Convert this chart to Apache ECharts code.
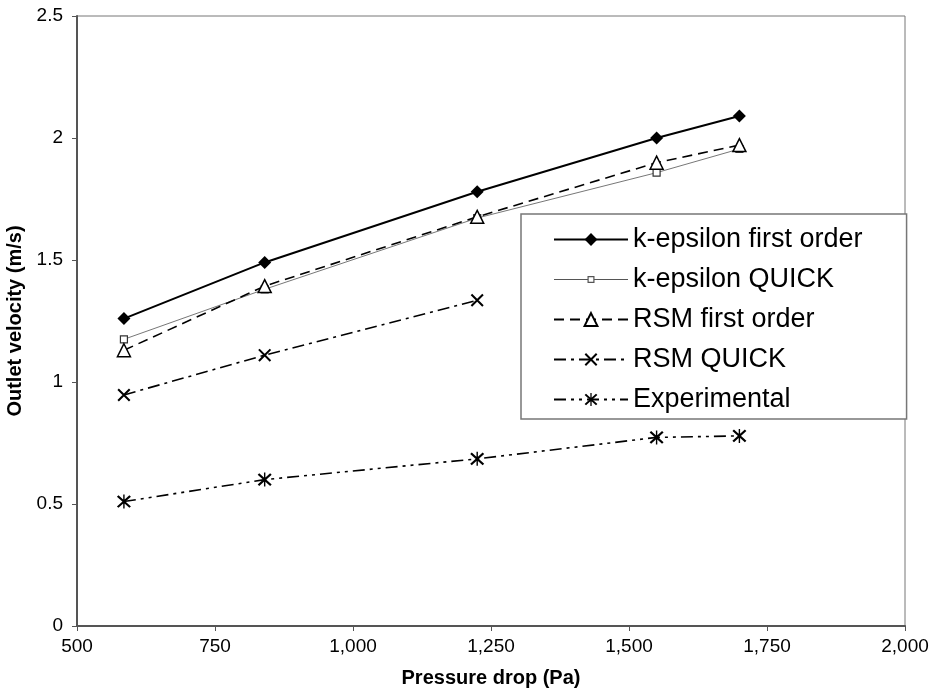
<!DOCTYPE html>
<html>
<head>
<meta charset="utf-8">
<script src="https://cdn.jsdelivr.net/npm/echarts@6/dist/echarts.min.js"></script>
<style>
html,body{margin:0;padding:0;background:#fff;}
#chart{width:933px;height:689px;}
</style>
</head>
<body>
<div id="chart"></div>
<script>
// Data
var pressureDrop = [585, 840, 1225, 1550, 1700];
var kEpsFirst    = [1.26, 1.49, 1.78, 2.00, 2.09];
var kEpsQuick    = [1.175, 1.38, 1.672, 1.858, 1.955];
var rsmFirst     = [1.13, 1.393, 1.677, 1.899, 1.971];
var rsmQuickX    = [585, 840, 1225];
var rsmQuick     = [0.947, 1.11, 1.335];
var experimental = [0.51, 0.60, 0.685, 0.773, 0.779];
var seriesNames  = ['k-epsilon first order', 'k-epsilon QUICK', 'RSM first order', 'RSM QUICK', 'Experimental'];
var xTicks = [500, 750, 1000, 1250, 1500, 1750, 2000];
var yTicks = [0, 0.5, 1, 1.5, 2, 2.5];

function pairs(xs, ys) { return ys.map(function (v, i) { return [xs[i], v]; }); }

var crossPath = 'path://M1,3L3,1L19,17L17,19ZM17,1L19,3L3,19L1,17Z';
var starPath  = 'path://M1,3L3,1L19,17L17,19ZM17,1L19,3L3,19L1,17ZM9.1,0L10.9,0L10.9,20L9.1,20Z';
// legend icon for the thin line with a small hollow square
var quickIcon = 'path://M0,7.5L33.5,7.5L33.5,8.5L0,8.5ZM40.5,7.5L74,7.5L74,8.5L40.5,8.5Z' +
                'M33.5,4.5L40.5,4.5L40.5,11.5L33.5,11.5ZM34.7,5.7L34.7,10.3L39.3,10.3L39.3,5.7Z';

var FONT = '"Liberation Sans", Arial, sans-serif';
var chart = echarts.init(document.getElementById('chart'), null, {renderer: 'canvas'});

chart.setOption({
  backgroundColor: '#fff',
  animation: false,
  textStyle: {fontFamily: FONT, color: '#000'},
  grid: {left: 77, right: 28, top: 16, bottom: 63, containLabel: false, outerBoundsMode: 'none',
         show: true, borderColor: '#777', borderWidth: 1, backgroundColor: 'transparent'},
  xAxis: {
    type: 'value', min: xTicks[0], max: xTicks[xTicks.length - 1], interval: 250,
    name: 'Pressure drop (Pa)', nameLocation: 'middle', nameGap: 42,
    nameTextStyle: {fontFamily: FONT, fontWeight: 'bold', fontSize: 20, color: '#000'},
    axisLine: {show: true, onZero: false, lineStyle: {color: '#555', width: 2}},
    axisTick: {show: true, inside: false, length: 5, lineStyle: {color: '#555', width: 1}},
    axisLabel: {fontFamily: FONT, fontSize: 19, color: '#000', margin: 11,
      formatter: function (v) { return v.toLocaleString('en-US'); }},
    splitLine: {show: false}
  },
  yAxis: {
    type: 'value', min: yTicks[0], max: yTicks[yTicks.length - 1], interval: 0.5,
    name: 'Outlet velocity (m/s)', nameLocation: 'middle', nameGap: 51, nameRotate: 90,
    nameTextStyle: {fontFamily: FONT, fontWeight: 'bold', fontSize: 20, color: '#000'},
    axisLine: {show: true, onZero: false, lineStyle: {color: '#555', width: 2}},
    axisTick: {show: true, inside: false, length: 5, lineStyle: {color: '#555', width: 1}},
    axisLabel: {fontFamily: FONT, fontSize: 19, color: '#000', margin: 14},
    splitLine: {show: false}
  },
  legend: {
    orient: 'vertical', left: 521, top: 214,
    padding: [12, 44, 6, 32],
    itemGap: 13, itemWidth: 74, itemHeight: 16,
    backgroundColor: '#fff', borderColor: '#777', borderWidth: 1.5,
    textStyle: {fontFamily: FONT, fontSize: 27, color: '#000'},
    data: [
      {name: seriesNames[0]},
      {name: seriesNames[1], icon: quickIcon, itemStyle: {color: '#555', borderWidth: 0}},
      {name: seriesNames[2]},
      {name: seriesNames[3]},
      {name: seriesNames[4]}
    ]
  },
  series: [
    {
      name: seriesNames[0], type: 'line', data: pairs(pressureDrop, kEpsFirst),
      symbol: 'diamond', symbolSize: 13,
      lineStyle: {color: '#000', width: 2},
      itemStyle: {color: '#000'}
    },
    {
      name: seriesNames[1], type: 'line', data: pairs(pressureDrop, kEpsQuick),
      symbol: 'rect', symbolSize: 7,
      lineStyle: {color: '#777', width: 1},
      itemStyle: {color: '#fff', borderColor: '#333', borderWidth: 1.2}
    },
    {
      name: seriesNames[2], type: 'line', data: pairs(pressureDrop, rsmFirst),
      symbol: 'triangle', symbolSize: 13,
      lineStyle: {color: '#000', width: 1.6, type: [10, 6]},
      itemStyle: {color: '#fff', borderColor: '#000', borderWidth: 1.5}
    },
    {
      name: seriesNames[3], type: 'line', data: pairs(rsmQuickX, rsmQuick),
      symbol: crossPath, symbolSize: 13,
      lineStyle: {color: '#000', width: 1.6, type: [12, 5, 3, 5]},
      itemStyle: {color: '#000'}
    },
    {
      name: seriesNames[4], type: 'line', data: pairs(pressureDrop, experimental),
      symbol: starPath, symbolSize: 14,
      lineStyle: {color: '#000', width: 1.6, type: [12, 5, 3, 5, 3, 5]},
      itemStyle: {color: '#000'}
    }
  ]
});
</script>
</body>
</html>
